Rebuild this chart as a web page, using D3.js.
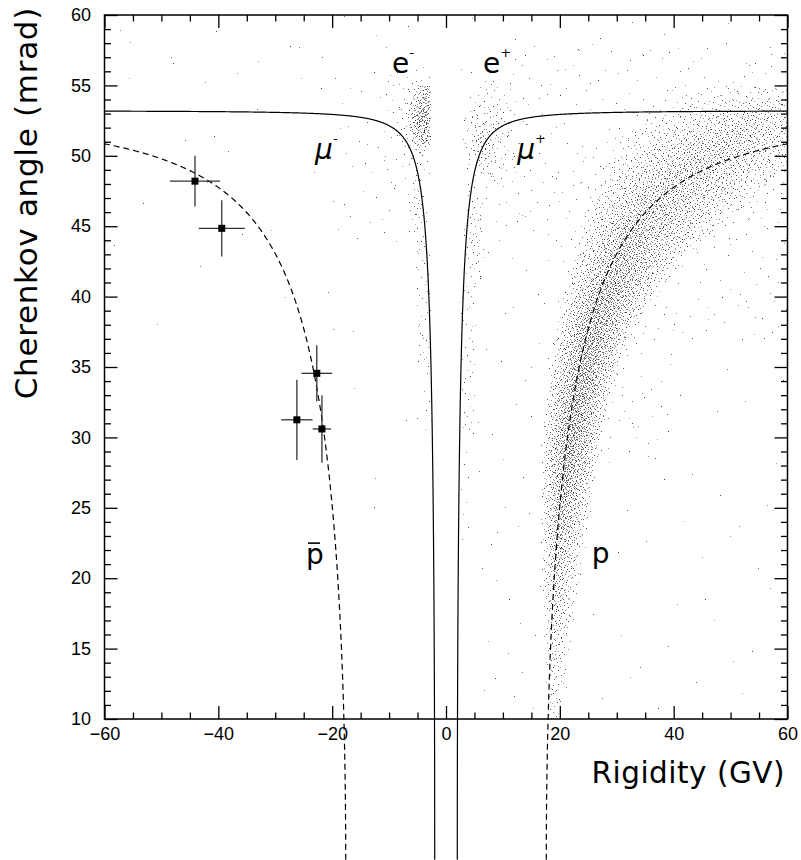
<!DOCTYPE html>
<html>
<head>
<meta charset="utf-8">
<script src="https://cdn.jsdelivr.net/npm/d3@7"></script>
<style>
  body { margin: 0; background: #fff; }
  svg { display: block; }
</style>
</head>
<body>
<svg id="chart" width="801" height="860"></svg>
<script>
// ---- axis ranges and ticks ----
const rigidityDomain = [-60, 60];
const angleDomain = [10, 60];
const xMajorTicks = [-60, -40, -20, 0, 20, 40, 60];
const yMajorTicks = [10, 15, 20, 25, 30, 35, 40, 45, 50, 55, 60];

// ---- radiator: saturated Cherenkov angle (mrad) and particle masses (GeV) ----
const thetaSaturation = 53.2;
const muonMass = 0.10566;
const protonMass = 0.93827;

// ---- antiproton candidates with errors ----
const pbarRigidity = [-44.1, -39.4, -22.7, -26.2, -21.8];
const pbarTheta    = [48.2, 44.85, 34.55, 31.25, 30.6];
const pbarRigErr   = [4.4, 4.05, 2.7, 2.75, 1.6];
const pbarThetaErr = [1.8, 2.0, 2.0, 2.85, 2.4];

// ---- proton band: per 1-mrad row, event count and rigidity spread (low, mode, high) ----
const protonRowTheta = [10,11,12,13,14,15,16,17,18,19,20,21,22,23,24,25,26,27,28,29,30,31,32,33,34,35,36,37,38,39,40,41,42,43,44,45,46,47,48,49,50,51,52,53,54];
const protonRowCount = [8,10,12,14,18,22,28,34,42,50,60,70,80,92,105,118,135,150,165,175,185,190,195,200,205,210,215,220,225,230,235,240,245,250,255,260,265,270,275,280,275,250,200,130,60];
const protonRowLow   = [17.5,17.4,17.3,17.2,17.1,17,16.9,16.8,16.7,16.6,16.5,16.5,16.5,16.5,16.5,16.5,16.5,16.5,16.5,16.6,16.8,17,17.2,17.5,17.8,18.2,18.6,19,19.4,19.9,20.4,21,21.6,22.2,22.8,23.5,24.2,25,26,27,28.5,30,32,35,38];
const protonRowMode  = [18.5,18.6,18.7,18.8,18.9,19,19.1,19.2,19.3,19.4,19.5,19.7,19.9,20.1,20.3,20.6,20.9,21.2,21.5,21.8,22.2,22.6,23,23.5,24,24.6,25.2,26,26.8,27.6,28.5,29.5,30.6,31.8,33,34.5,36,38,40.5,43.5,47,51,54,56,57];
const protonRowHigh  = [21,21,21.5,21.8,22,22.3,22.6,23,23.3,23.6,24,24.3,24.6,25,25.4,25.8,26.2,26.6,27,27.4,27.8,28.3,28.8,29.5,30.2,31,32,33,34.5,36,37.8,39.8,42,44.5,47.5,50.5,54,57.5,61,64,67,69,71,73,75];

// ---- other event clusters: rigidity range, angle range, count, peaked (1) or flat (0) ----
const cellR0    = [-6.5, -4.2, -8.5, -11, -7.0, -5.3, -4.0, 2.8, 3.0, 2.8, 2.6, 2.5, -20, -60, -20, 5, 12, 25, 17, 3, -60, 30, 22];
const cellR1    = [-2.8, -2.8, -2.8, -2.8, -3.2, -2.8, -2.5, 13, 9.0, 7.0, 5.0, 4.0, -8, -20, -5, 17, 60, 60, 35, 15, 60, 60, 40];
const cellT0    = [50.0, 50.8, 49.0, 47.5, 43, 35, 30, 47, 48, 40, 30, 22, 44, 38, 25, 10, 44, 10, 30, 45, 55, 37, 28];
const cellT1    = [55.6, 55.0, 56.0, 56.5, 50, 44, 36, 55.8, 54, 48, 41, 30, 56, 58, 44, 45, 58, 40, 50, 56, 60, 49, 40];
const cellCount = [150, 90, 70, 40, 40, 40, 8, 110, 60, 50, 40, 8, 35, 18, 8, 40, 200, 45, 80, 50, 30, 110, 45];
const cellPeaked= [1, 0, 1, 0, 1, 0, 0, 1, 1, 1, 0, 0, 0, 0, 0, 0, 0, 0, 0, 0, 0, 0, 0];

// ---- particle labels ----
const labelText = ["e", "e", "\u03BC", "\u03BC", "p", "p"];
const labelSup  = ["-", "+", "-", "+", "", ""];
const labelR    = [-9.5, 6.5, -23.0, 12.5, -24.6, 25.6];
const labelT    = [55.9, 55.9, 49.8, 49.8, 21.0, 21.1];
const labelBar  = [false, false, false, false, true, false];

// ---- layout ----
const svg = d3.select("#chart");
const plot = { left: 104.5, right: 787.5, top: 15, bottom: 719 };
const x = d3.scaleLinear().domain(rigidityDomain).range([plot.left, plot.right]);
const y = d3.scaleLinear().domain(angleDomain).range([plot.bottom, plot.top]);

svg.append("defs").append("clipPath").attr("id", "plotClip")
  .append("rect")
  .attr("x", plot.left).attr("y", plot.top)
  .attr("width", plot.right - plot.left).attr("height", plot.bottom - plot.top);

// ---- event cloud: Halton (2,3) placement inside each region ----
function radicalInverse(k, b) {
  let f = 1, r = 0;
  while (k > 0) { f /= b; r += f * (k % b); k = Math.floor(k / b); }
  return r;
}
function triInv(u, lo, mode, hi) {
  const fc = (mode - lo) / (hi - lo);
  return u < fc ? lo + Math.sqrt(u * (hi - lo) * (mode - lo))
                : hi - Math.sqrt((1 - u) * (hi - lo) * (hi - mode));
}
const shade = d3.interpolateRgb("#3a3a3a", "#b4b4b4");
const events = [];
protonRowTheta.forEach((t0, i) => {
  const off = 17 + i * 211;
  for (let k = 0; k < protonRowCount[i]; k++) {
    const u = radicalInverse(off + k, 2);
    const v = radicalInverse(off + k, 3);
    const w = radicalInverse(off + k, 5);
    events.push({ R: triInv(u, protonRowLow[i], protonRowMode[i], protonRowHigh[i]), T: t0 + v, s: w });
  }
});
cellR0.forEach((r0, i) => {
  const off = 5 + i * 173;
  for (let k = 0; k < cellCount[i]; k++) {
    let u = radicalInverse(off + k, 2);
    let v = radicalInverse(off + k, 3);
    const w = radicalInverse(off + k, 5);
    if (cellPeaked[i]) { u = triInv(u, 0, 0.5, 1); v = triInv(v, 0, 0.5, 1); }
    events.push({ R: r0 + u * (cellR1[i] - r0), T: cellT0[i] + v * (cellT1[i] - cellT0[i]), s: w });
  }
});

svg.append("g").attr("clip-path", "url(#plotClip)")
  .selectAll("rect").data(events).join("rect")
  .attr("x", d => Math.round(x(d.R)))
  .attr("y", d => Math.round(y(d.T)))
  .attr("width", 1).attr("height", 1)
  .attr("fill", d => shade(d.s));

// ---- expected angle curves ----
const nIndex = 1 / Math.cos(thetaSaturation / 1000);
function cherenkov(p, m) {
  const beta = p / Math.sqrt(p * p + m * m);
  const c = 1 / (nIndex * beta);
  return c >= 1 ? 0 : Math.acos(c) * 1000;
}
function curvePoints(m, sign) {
  const pth = m / Math.sqrt(nIndex * nIndex - 1);
  const span = 60 / pth - 1;
  return d3.range(0, 601).map(k => {
    const p = pth * (1 + span * Math.pow(k / 600, 3));
    return [sign * p, cherenkov(p, m)];
  });
}
const line = d3.line().x(d => x(d[0])).y(d => y(d[1]));
[-1, 1].forEach(sgn => {
  svg.append("path").attr("d", line(curvePoints(muonMass, sgn)))
    .attr("fill", "none").attr("stroke", "#000").attr("stroke-width", 1.2);
  svg.append("path").attr("d", line(curvePoints(protonMass, sgn)))
    .attr("fill", "none").attr("stroke", "#000").attr("stroke-width", 1.2)
    .attr("stroke-dasharray", "6,4");
});

// ---- antiproton candidates ----
const pbar = pbarRigidity.map((r, i) => ({ R: r, T: pbarTheta[i], eR: pbarRigErr[i], eT: pbarThetaErr[i] }));
const gp = svg.append("g");
gp.selectAll("line.h").data(pbar).join("line").attr("class", "h")
  .attr("x1", d => x(d.R - d.eR)).attr("x2", d => x(d.R + d.eR))
  .attr("y1", d => y(d.T)).attr("y2", d => y(d.T))
  .attr("stroke", "#333").attr("stroke-width", 1.3);
gp.selectAll("line.v").data(pbar).join("line").attr("class", "v")
  .attr("x1", d => x(d.R)).attr("x2", d => x(d.R))
  .attr("y1", d => y(d.T - d.eT)).attr("y2", d => y(d.T + d.eT))
  .attr("stroke", "#333").attr("stroke-width", 1.3);
gp.selectAll("rect").data(pbar).join("rect")
  .attr("x", d => x(d.R) - 3.5).attr("y", d => y(d.T) - 3.5)
  .attr("width", 7).attr("height", 7).attr("fill", "#000");

// ---- axes: inward ticks on all four sides ----
const xMinor = d3.range(-60, 61, 5).filter(v => v % 20 !== 0);
const yMinor = d3.range(10, 61, 1).filter(v => v % 5 !== 0);
function styleAxis(g) {
  g.select(".domain").remove();
  g.selectAll("line").attr("stroke", "#000").attr("stroke-width", 1.3);
  g.selectAll("text").attr("fill", "#000")
    .attr("font-family", "'Liberation Sans', Arial, sans-serif").attr("font-size", 18);
}
svg.append("g").attr("transform", `translate(0,${plot.bottom})`)
  .call(d3.axisBottom(x).tickValues(xMajorTicks).tickSize(-13).tickPadding(8).tickFormat(d3.format("d")))
  .call(styleAxis);
svg.append("g").attr("transform", `translate(0,${plot.bottom})`)
  .call(d3.axisBottom(x).tickValues(xMinor).tickSize(-6.5).tickFormat(""))
  .call(styleAxis);
svg.append("g").attr("transform", `translate(0,${plot.top})`)
  .call(d3.axisTop(x).tickValues(xMajorTicks).tickSize(-13).tickFormat(""))
  .call(styleAxis);
svg.append("g").attr("transform", `translate(0,${plot.top})`)
  .call(d3.axisTop(x).tickValues(xMinor).tickSize(-6.5).tickFormat(""))
  .call(styleAxis);
svg.append("g").attr("transform", `translate(${plot.left},0)`)
  .call(d3.axisLeft(y).tickValues(yMajorTicks).tickSize(-13).tickPadding(13.5).tickFormat(d3.format("d")))
  .call(styleAxis);
svg.append("g").attr("transform", `translate(${plot.left},0)`)
  .call(d3.axisLeft(y).tickValues(yMinor).tickSize(-6.5).tickFormat(""))
  .call(styleAxis);
svg.append("g").attr("transform", `translate(${plot.right},0)`)
  .call(d3.axisRight(y).tickValues(yMajorTicks).tickSize(-13).tickFormat(""))
  .call(styleAxis);
svg.append("g").attr("transform", `translate(${plot.right},0)`)
  .call(d3.axisRight(y).tickValues(yMinor).tickSize(-6.5).tickFormat(""))
  .call(styleAxis);

svg.append("rect")
  .attr("x", plot.left).attr("y", plot.top)
  .attr("width", plot.right - plot.left).attr("height", plot.bottom - plot.top)
  .attr("fill", "none").attr("stroke", "#000").attr("stroke-width", 1.5);

// ---- axis titles ----
const titleFont = "'DejaVu Sans', sans-serif";
svg.append("text").text("Rigidity (GV)")
  .attr("x", 785).attr("y", 783).attr("text-anchor", "end")
  .attr("font-family", titleFont).attr("font-size", 29.5).attr("letter-spacing", 0.5).attr("fill", "#000");
svg.append("text").text("Cherenkov angle (mrad)")
  .attr("transform", "translate(37,7) rotate(-90)").attr("text-anchor", "end")
  .attr("font-family", titleFont).attr("font-size", 31).attr("letter-spacing", 0.7).attr("fill", "#000");

// ---- particle labels ----
const lab = svg.append("g").attr("font-family", titleFont).attr("fill", "#000");
labelText.forEach((t, i) => {
  const tx = lab.append("text")
    .attr("x", x(labelR[i])).attr("y", y(labelT[i]))
    .attr("font-size", 28)
    .attr("font-style", t === "\u03BC" ? "italic" : "normal");
  tx.append("tspan").text(t);
  if (labelSup[i]) {
    tx.append("tspan").text(labelSup[i]).attr("font-size", 13).attr("dy", -16);
  }
  if (labelBar[i]) {
    lab.append("line")
      .attr("x1", x(labelR[i]) + 2).attr("x2", x(labelR[i]) + 14)
      .attr("y1", y(labelT[i]) - 21).attr("y2", y(labelT[i]) - 21)
      .attr("stroke", "#000").attr("stroke-width", 1.6);
  }
});
</script>
</body>
</html>
